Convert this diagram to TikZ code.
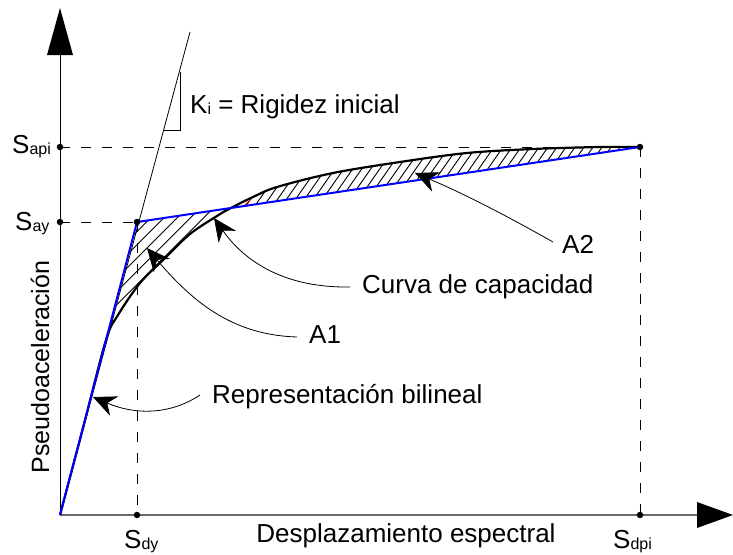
\documentclass[tikz,border=0pt]{standalone}
\usepackage{fontspec}
\setmainfont{Liberation Sans}
\usetikzlibrary{arrows.meta}
\definecolor{bilblue}{RGB}{0,0,255}
\definecolor{axgray}{RGB}{105,105,105}
\newcommand{\sbs}[1]{{\fontsize{16}{16}\selectfont\raisebox{-1pt}{#1}}}
\begin{document}
\begin{tikzpicture}[x=1pt,y=-1pt,
  lbl/.style={font=\fontsize{26}{30}\selectfont, inner sep=0pt},
  leader/.style={line width=0.8pt, -{Stealth[length=23pt,width=21pt,inset=7.5pt]}},
  dsh/.style={line width=0.8pt, dash pattern=on 10pt off 11pt},
  dotm/.style={circle, fill=black, inner sep=0pt, minimum size=6.5pt},
  bil/.style={line width=2pt, draw=bilblue},
  capc/.style={line width=2.2pt, line join=round},
  hatchl/.style={line width=0.9pt}]
\useasboundingbox (0,0) rectangle (733,554);

% key points
\coordinate (O) at (60,515);
\coordinate (Yp) at (137,222);
\coordinate (Pp) at (640,147);
\coordinate (Sapi) at (60,147);
\coordinate (Say) at (60,222);
\coordinate (Sdy) at (137,515);
\coordinate (Sdpi) at (640,515);
\coordinate (Ktop) at (190,32);

% hatching
\begin{scope}
  \clip (60,515) -- (137,222) -- (640,147) -- plot[smooth, tension=0.55] coordinates {(640,147) (600,147) (533,149) (467,153) (400,162) (333,173) (277,187) (253,197) (230,208.5) (217,216) (190,234) (163,260) (140,283) (118,315) (106,340) (83,428) (60,515)} -- cycle;
  \begin{scope}
    \clip (0,0) rectangle (230,554);
    \foreach \k in {-2,...,8} \draw[hatchl] ({368.4+13.3*\k-400},400) -- ++(250,-250);
  \end{scope}
  \begin{scope}
    \clip (230,0) rectangle (733,554);
    \foreach \k in {0,...,52} \draw[hatchl] ({190+9*\k},260) -- ++(126,-180);
  \end{scope}
\end{scope}
\draw[red, line width=0.8pt] (243,207) -- (253,197);

% dashed guides
\draw[dsh] (Sapi) -- (Pp);
\draw[dsh] (Say) -- (Yp);
\draw[dsh] (Yp) -- (Sdy);
\draw[dsh] (Pp) -- (Sdpi);

% axes
\draw[line width=0.9pt] (O) -- (60,50);
\fill (60,8) -- (47,55) -- (73,55) -- cycle;
\draw[line width=1.5pt, axgray] (O) -- (700,515);
\fill (733,515) -- (697,502) -- (697,528) -- cycle;

% initial stiffness
\draw[line width=0.8pt] (O) -- (Ktop);
\draw[line width=0.8pt] (180,72) -- (180,130) -- (163.5,130);

% capacity curve
\draw[capc] plot[smooth, tension=0.55] coordinates {(640,147) (600,147) (533,149) (467,153) (400,162) (333,173) (277,187) (253,197) (230,208.5) (217,216) (190,234) (163,260) (140,283) (118,315) (106,340) (83,428) (60,515)};

% bilinear
\draw[bil, line join=round] (O) -- (Yp) -- (Pp);

% labels
\node[lbl, anchor=base west] (lsapi) at (12,153) {S\sbs{api}};
\node[lbl, anchor=base west] (lsay) at (15,230) {S\sbs{ay}};
\node[lbl, anchor=base west] (lsdy) at (124,548) {S\sbs{dy}};
\node[lbl, anchor=base west] (lsdpi) at (613,548) {S\sbs{dpi}};
\node[lbl, anchor=base west] (lki) at (190,113) {K\sbs{i} = Rigidez inicial};
\node[lbl, font=\fontsize{25}{30}\selectfont, rotate=90, anchor=base] (lpsa) at (49,367) {Pseudoaceleración};
\node[lbl, anchor=base] (ldes) at (406,542) {Desplazamiento espectral};
\node[lbl, anchor=base west] (lcur) at (362,293) {Curva de capacidad};
\node[lbl, anchor=base west] (lrep) at (212,403) {Representación bilineal};
\node[lbl, anchor=base west] (la1) at (309,343) {A1};
\node[lbl, anchor=base west] (la2) at (562,253) {A2};

% leaders
\coordinate (sRep) at (200,395);
\coordinate (tRep) at (93,397);
\coordinate (sA1) at (297,337);
\coordinate (tA1) at (147,248);
\coordinate (sCur) at (350,287);
\coordinate (tCur) at (214,218);
\coordinate (sA2) at (553,242);
\coordinate (tA2) at (415,173);
\draw[leader] (sRep) .. controls (170,415) and (135,415) .. (tRep);
\draw[leader] (sA1) .. controls (235,335) and (195,305) .. (tA1);
\draw[leader] (sCur) .. controls (285,288) and (245,262) .. (tCur);
\draw[leader] (sA2) .. controls (500,212) and (460,192) .. (tA2);

% dots
\foreach \p in {Sapi,Say,Yp,Sdy,Sdpi,Pp} \node[dotm] at (\p) {};
\end{tikzpicture}
\end{document}
